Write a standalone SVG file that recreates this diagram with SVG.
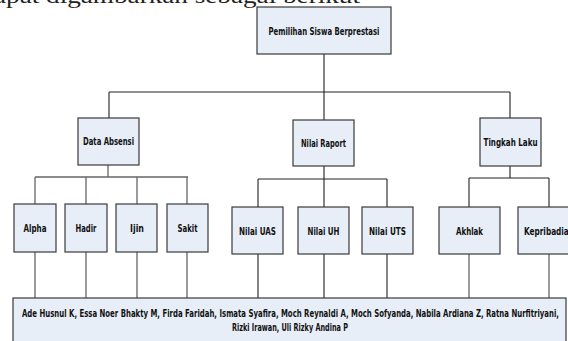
<svg xmlns="http://www.w3.org/2000/svg" width="568" height="341" viewBox="0 0 568 341">
<style>
.box{fill:#e8eef8;stroke:#3a3a3a;stroke-width:1.2}
.lbl{font-family:"DejaVu Sans Condensed","Liberation Sans",sans-serif;font-weight:bold;font-size:11px;fill:#111;text-anchor:middle}
.ln{stroke:#222;stroke-width:1.1;fill:none}
.lg{stroke:#666;stroke-width:1.3;fill:none}
.top{font-family:"Liberation Serif",serif;font-size:20px;fill:#222}
</style>
<rect width="568" height="341" fill="#fff"/>
<text class="top" x="-6" y="3" textLength="366" lengthAdjust="spacingAndGlyphs">apat digambarkan sebagai berikut</text>
<g id="connectors">
<path class="ln" d="M324,54V92M109,92H510M109,92V118M324,92V120M510,92V118"/>
<path class="lg" d="M108,165V177M35,177H188M35,177V204M86,177V204M137,177V204M187,177V204"/>
<path class="ln" d="M324,166V179M258,179H387M258,179V207M324,179V207M387,179V207"/>
<path class="ln" d="M510,166V178M469,178H549M469,178V207M549,178V207"/>
<path class="lg" d="M35,252V298M86,252V298M137,252V298M187,252V298"/>
<path class="ln" d="M258,254V298M324,254V298M387,254V298"/>
<path class="lg" d="M469,254V298M549,254V298"/>
</g>
<g id="root"><rect class="box" x="257" y="7" width="134" height="47"/><text class="lbl" x="324" y="35" textLength="111" lengthAdjust="spacingAndGlyphs">Pemilihan Siswa Berprestasi</text></g>
<g id="data-absensi"><rect class="box" x="78" y="118" width="61" height="47"/><text class="lbl" x="108.5" y="145" textLength="51" lengthAdjust="spacingAndGlyphs">Data Absensi</text></g>
<g id="nilai-raport"><rect class="box" x="293" y="120" width="61" height="46"/><text class="lbl" x="323.5" y="147" textLength="45" lengthAdjust="spacingAndGlyphs">Nilai Raport</text></g>
<g id="tingkah-laku"><rect class="box" x="480" y="118" width="61" height="48"/><text class="lbl" x="510.5" y="146" textLength="54" lengthAdjust="spacingAndGlyphs">Tingkah Laku</text></g>
<g id="alpha"><rect class="box" x="14" y="204" width="42" height="48"/><text class="lbl" x="35" y="232" textLength="23" lengthAdjust="spacingAndGlyphs">Alpha</text></g>
<g id="hadir"><rect class="box" x="65" y="204" width="42" height="48"/><text class="lbl" x="86" y="232" textLength="21" lengthAdjust="spacingAndGlyphs">Hadir</text></g>
<g id="ijin"><rect class="box" x="116" y="204" width="41" height="48"/><text class="lbl" x="137" y="232" textLength="14" lengthAdjust="spacingAndGlyphs">Ijin</text></g>
<g id="sakit"><rect class="box" x="167" y="204" width="41" height="48"/><text class="lbl" x="187.5" y="232" textLength="20" lengthAdjust="spacingAndGlyphs">Sakit</text></g>
<g id="nilai-uas"><rect class="box" x="232" y="207" width="51" height="47"/><text class="lbl" x="257.5" y="235" textLength="37" lengthAdjust="spacingAndGlyphs">Nilai UAS</text></g>
<g id="nilai-uh"><rect class="box" x="298" y="207" width="51" height="47"/><text class="lbl" x="323.5" y="235" textLength="32" lengthAdjust="spacingAndGlyphs">Nilai UH</text></g>
<g id="nilai-uts"><rect class="box" x="362" y="207" width="51" height="47"/><text class="lbl" x="387.5" y="235" textLength="37" lengthAdjust="spacingAndGlyphs">Nilai UTS</text></g>
<g id="akhlak"><rect class="box" x="439" y="207" width="61" height="47"/><text class="lbl" x="469.5" y="235" textLength="27" lengthAdjust="spacingAndGlyphs">Akhlak</text></g>
<g id="kepribadian"><rect class="box" x="518" y="207" width="62" height="47"/><text class="lbl" x="549" y="235" textLength="50" lengthAdjust="spacingAndGlyphs">Kepribadian</text></g>
<g id="siswa"><rect class="box" x="13" y="298" width="553" height="50"/>
<text class="lbl" x="290.5" y="317" textLength="537" lengthAdjust="spacingAndGlyphs">Ade Husnul K, Essa Noer Bhakty M, Firda Faridah, Ismata Syafira, Moch Reynaldi A, Moch Sofyanda, Nabila Ardiana Z, Ratna Nurfitriyani,</text>
<text class="lbl" x="290" y="331" textLength="116" lengthAdjust="spacingAndGlyphs">Rizki Irawan, Uli Rizky Andina P</text></g>
</svg>
